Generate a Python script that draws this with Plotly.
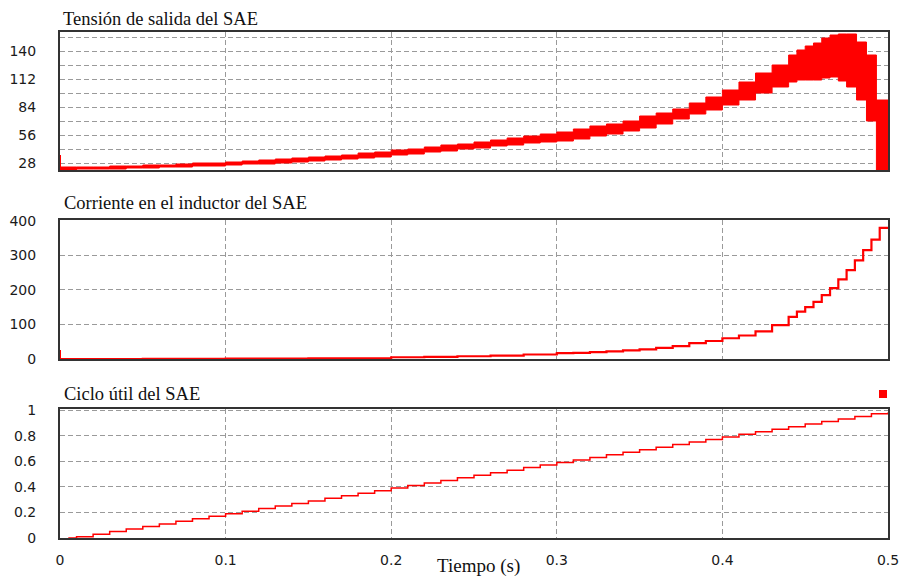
import plotly.graph_objects as go

# ---------------- data ----------------
t_v = [0.00, 0.01, 0.02, 0.03, 0.04, 0.05, 0.06, 0.07, 0.08, 0.09,
       0.10, 0.11, 0.12, 0.13, 0.14, 0.15, 0.16, 0.17, 0.18, 0.19,
       0.20, 0.21, 0.22, 0.23, 0.24, 0.25, 0.26, 0.27, 0.28, 0.29,
       0.30, 0.31, 0.32, 0.33, 0.34, 0.35, 0.36, 0.37, 0.38, 0.39,
       0.40, 0.41, 0.42, 0.43, 0.44, 0.445, 0.45, 0.455, 0.46, 0.465,
       0.47, 0.475, 0.481, 0.487, 0.493, 0.50]
v_upper = [24, 24, 24, 25, 25, 26, 26, 27, 28, 28,
           29, 30, 31, 32, 33, 34, 35, 36, 38, 39,
           41, 42, 44, 46, 47, 49, 51, 53, 55, 57,
           59, 62, 65, 67, 70, 75, 78, 82, 88, 94,
           101, 109, 118, 126, 136, 141, 145, 148, 153, 156,
           157, 157, 149, 136, 91, 91]
v_lower = [21, 22, 22, 22, 23, 23, 24, 24, 25, 25,
           26, 27, 27, 28, 29, 30, 31, 32, 33, 34,
           36, 37, 39, 40, 42, 43, 45, 46, 48, 49,
           50, 52, 55, 57, 60, 63, 67, 72, 77, 81,
           86, 91, 98, 104, 109, 111, 111, 111, 113, 114,
           110, 104, 91, 70, 21, 21]
v_spike_t = [0.0, 0.0]
v_spike = [21, 36]

t_i = [0.00, 0.05, 0.10, 0.15, 0.20, 0.22, 0.24, 0.26, 0.28, 0.30,
       0.31, 0.32, 0.33, 0.34, 0.35, 0.36, 0.37, 0.38, 0.39, 0.40,
       0.41, 0.42, 0.43, 0.44, 0.445, 0.45, 0.455, 0.46, 0.465, 0.47,
       0.475, 0.48, 0.485, 0.49, 0.495, 0.50]
i_L = [0, 0.5, 1, 2, 5, 6, 8, 10, 13, 17,
       18, 20, 22, 25, 28, 32, 37, 46, 52, 60,
       68, 80, 98, 122, 137, 150, 165, 185, 205, 230,
       257, 285, 315, 345, 379, 379]
i_spike_t = [0.0, 0.0]
i_spike = [0, 26]

t_d = [0.005, 0.01, 0.02, 0.03, 0.04, 0.05, 0.06, 0.07, 0.08, 0.09,
       0.10, 0.11, 0.12, 0.13, 0.14, 0.15, 0.16, 0.17, 0.18, 0.19,
       0.20, 0.21, 0.22, 0.23, 0.24, 0.25, 0.26, 0.27, 0.28, 0.29,
       0.30, 0.31, 0.32, 0.33, 0.34, 0.35, 0.36, 0.37, 0.38, 0.39,
       0.40, 0.41, 0.42, 0.43, 0.44, 0.45, 0.46, 0.47, 0.48, 0.49, 0.50]
duty = [0.00, 0.01, 0.03, 0.05, 0.07, 0.09, 0.11, 0.13, 0.15, 0.17,
        0.19, 0.21, 0.23, 0.25, 0.27, 0.29, 0.31, 0.33, 0.35, 0.37,
        0.39, 0.41, 0.43, 0.45, 0.47, 0.49, 0.51, 0.53, 0.55, 0.57,
        0.59, 0.61, 0.63, 0.65, 0.67, 0.69, 0.71, 0.73, 0.75, 0.77,
        0.79, 0.81, 0.83, 0.85, 0.87, 0.89, 0.91, 0.93, 0.95, 0.97, 0.98]

x_ticks = [0, 0.1, 0.2, 0.3, 0.4, 0.5]
x_tick_text = ["0", "0.1", "0.2", "0.3", "0.4", "0.5"]
v_ticks = [28, 56, 84, 112, 140]
v_minor = [42, 70, 98, 126, 154]
i_ticks = [0, 100, 200, 300, 400]
d_ticks = [0, 0.2, 0.4, 0.6, 0.8, 1]
d_tick_text = ["0", "0.2", "0.4", "0.6", "0.8", "1"]

titles = ["Tensión de salida del SAE", "Corriente en el inductor del SAE", "Ciclo útil del SAE"]
x_label = "Tiempo (s)"

# ---------------- figure ----------------
W, H = 901, 576
RED = "#ff0000"
GRID = "#9a9a9a"
FRAME = "#333333"
tickfont = dict(family="DejaVu Sans, Verdana, sans-serif", size=14, color="#1a1a1a")
serif = dict(family="Liberation Serif, Times New Roman, serif", size=18.5, color="#111111")
serif_x = dict(family="Liberation Serif, Times New Roman, serif", size=19, color="#111111")

fig = go.Figure()

# top panel: voltage ripple band
fig.add_trace(go.Scatter(x=t_v, y=v_lower, mode="lines", line=dict(color=RED, width=1, shape="hv"),
                         xaxis="x", yaxis="y", showlegend=False, hoverinfo="skip"))
fig.add_trace(go.Scatter(x=t_v, y=v_upper, mode="lines", line=dict(color=RED, width=1, shape="hv"),
                         fill="tonexty", fillcolor=RED, xaxis="x", yaxis="y", showlegend=False))
fig.add_trace(go.Scatter(x=v_spike_t, y=v_spike, mode="lines", line=dict(color=RED, width=2),
                         xaxis="x", yaxis="y", showlegend=False))

# middle panel: inductor current
fig.add_trace(go.Scatter(x=t_i, y=i_L, mode="lines", line=dict(color=RED, width=2.2, shape="hv"),
                         xaxis="x2", yaxis="y2", showlegend=False))
fig.add_trace(go.Scatter(x=i_spike_t, y=i_spike, mode="lines", line=dict(color=RED, width=2),
                         xaxis="x2", yaxis="y2", showlegend=False))

# bottom panel: duty cycle
fig.add_trace(go.Scatter(x=t_d, y=duty, mode="lines", line=dict(color=RED, width=1.5, shape="hv"),
                         xaxis="x3", yaxis="y3", showlegend=False))

xdom = [60 / W, 888 / W]


def ydom(top_px, bot_px):
    return [1 - bot_px / H, 1 - top_px / H]


common_x = dict(range=[0, 0.5], domain=xdom, tickvals=x_ticks, showgrid=True, gridcolor=GRID,
                griddash="5px,3px", gridwidth=1, showline=True, mirror=True, linecolor=FRAME,
                linewidth=2, ticks="", zeroline=False, automargin=False, fixedrange=True)
common_y = dict(showgrid=True, gridcolor=GRID, griddash="5px,3px", gridwidth=1, showline=True,
                mirror=True, linecolor=FRAME, linewidth=2, ticks="", zeroline=False,
                automargin=False, tickfont=tickfont, ticklabelstandoff=19, fixedrange=True)

fig.update_layout(
    width=W, height=H,
    margin=dict(l=0, r=0, t=0, b=0),
    paper_bgcolor="white", plot_bgcolor="white",
    xaxis=dict(common_x, anchor="y", showticklabels=False),
    yaxis=dict(common_y, domain=ydom(32, 170), range=[21, 159], tickvals=v_ticks,
               minor=dict(tickvals=v_minor, showgrid=True, gridcolor=GRID, griddash="5px,3px",
                          gridwidth=1, ticks="")),
    xaxis2=dict(common_x, anchor="y2", showticklabels=False),
    yaxis2=dict(common_y, domain=ydom(220, 359), range=[0, 402], tickvals=i_ticks, anchor="x2"),
    xaxis3=dict(common_x, anchor="y3", showticklabels=True, ticktext=x_tick_text,
                tickfont=tickfont, ticklabelstandoff=8),
    yaxis3=dict(common_y, domain=ydom(409, 538), range=[0, 1.008], tickvals=d_ticks,
                ticktext=d_tick_text, anchor="x3"),
)

ann_pos = [(61, 19), (62, 203), (62, 394)]
for txt, (px, py) in zip(titles, ann_pos):
    fig.add_annotation(text=txt, x=px / W, y=1 - py / H, xref="paper", yref="paper",
                       xanchor="left", yanchor="middle", showarrow=False, font=serif)
fig.add_annotation(text=x_label, x=478 / W, y=1 - 566 / H, xref="paper", yref="paper",
                   xanchor="center", yanchor="middle", showarrow=False, font=serif_x)

# legend marker square (top right of bottom panel)
fig.add_shape(type="rect", xref="paper", yref="paper",
              x0=879 / W, x1=887 / W, y0=1 - 398 / H, y1=1 - 390 / H,
              fillcolor=RED, line=dict(width=0))

fig.write_html("out.html", config={"displayModeBar": False},
               post_script="document.body.style.margin='0';document.body.style.padding='0';"
                           "document.body.style.overflow='hidden';")
